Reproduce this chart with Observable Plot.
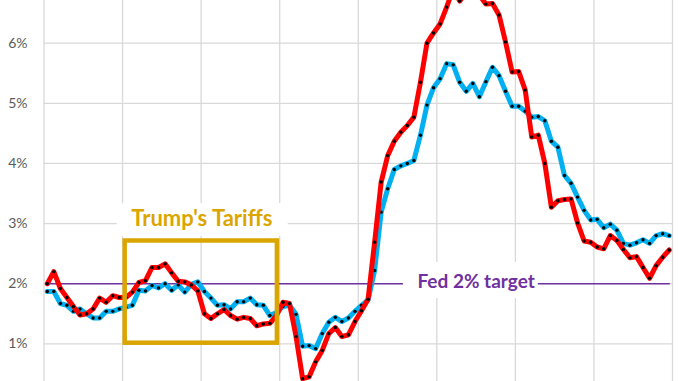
<!DOCTYPE html>
<html>
<head>
<meta charset="utf-8">
<script src="https://cdn.jsdelivr.net/npm/d3@7"></script>
<script src="https://cdn.jsdelivr.net/npm/@observablehq/plot@0.6"></script>
<style>
  html, body { margin: 0; padding: 0; background: #fff; }
  body { width: 678px; height: 381px; overflow: hidden; }
</style>
</head>
<body>
<div id="chart"></div>
<script>
// Monthly, Jan 2017 – Dec 2024 (year-over-year %)
const startYear = 2017;
const years = [2017, 2018, 2019, 2020, 2021, 2022, 2023, 2024];

// Red series (headline)
const headline = [
  2.00, 2.20, 1.92, 1.77, 1.62, 1.48, 1.50, 1.58, 1.76, 1.69, 1.80, 1.77,
  1.77, 1.86, 2.02, 2.05, 2.27, 2.27, 2.33, 2.18, 2.04, 2.03, 1.98, 1.88,
  1.50, 1.42, 1.50, 1.57, 1.47, 1.41, 1.44, 1.42, 1.30, 1.33, 1.34, 1.47,
  1.69, 1.67, 1.12, 0.42, 0.45, 0.70, 0.89, 1.17, 1.27, 1.12, 1.15, 1.37,
  1.55, 1.74, 2.69, 3.69, 4.13, 4.37, 4.52, 4.63, 4.77, 5.35, 6.00, 6.17,
  6.32, 6.60, 6.90, 6.70, 6.85, 7.10, 6.80, 6.65, 6.66, 6.47, 6.02, 5.52,
  5.53, 5.22, 4.44, 4.47, 4.00, 3.27, 3.38, 3.40, 3.41, 3.01, 2.71, 2.69,
  2.61, 2.58, 2.80, 2.72, 2.57, 2.43, 2.45, 2.27, 2.09, 2.30, 2.44, 2.56
];

// Blue series (core)
const core = [
  1.87, 1.87, 1.67, 1.64, 1.54, 1.58, 1.50, 1.43, 1.43, 1.54, 1.54, 1.58,
  1.61, 1.64, 1.89, 1.88, 1.97, 1.93, 2.00, 1.89, 1.98, 1.86, 1.99, 2.03,
  1.87, 1.76, 1.64, 1.65, 1.58, 1.70, 1.70, 1.76, 1.65, 1.64, 1.47, 1.52,
  1.62, 1.64, 1.49, 0.96, 0.97, 0.92, 1.17, 1.36, 1.44, 1.37, 1.43, 1.54,
  1.64, 1.73, 2.22, 3.19, 3.58, 3.90, 3.96, 4.00, 4.05, 4.47, 4.97, 5.26,
  5.41, 5.66, 5.64, 5.35, 5.20, 5.33, 5.11, 5.36, 5.60, 5.46, 5.20, 4.95,
  4.95, 4.87, 4.77, 4.78, 4.71, 4.37, 4.27, 3.80, 3.67, 3.44, 3.22, 3.06,
  3.07, 2.93, 2.99, 2.89, 2.67, 2.64, 2.68, 2.73, 2.67, 2.80, 2.83, 2.80
];

const yTicks = [1, 2, 3, 4, 5, 6];
const fedTarget = 2;
const fedLabel = "Fed 2% target";
const tariffLabel = "Trump's Tariffs";
// Tariff period box in data units (month index from Jan 2017, % range)
const tariffBox = {start: 12.4, end: 35.65, low: 1.01, high: 2.71};
const tariffLabelPos = {month: 24.1, value: 3.07};
const tariffLabelBg = {start: 11.2, end: 37.3, low: 2.785, high: 3.333};
const fedLabelPos = {month: 66.0, value: 2.03};
const fedLabelBg = {start: 54.9, end: 75.5, low: 1.753, high: 2.352};

const nMonths = headline.length;
const rows = headline.map((v, i) => ({i, headline: v, core: core[i]}));
const yearStarts = years.map((y, k) => k * 12).concat([nMonths]);

const grid = "#D9D9D9";
const gold = "#DBA500";
const purple = "#7030A0";

const chart = Plot.plot({
  width: 678,
  height: 381,
  marginLeft: 43.5,
  marginRight: 6,
  marginTop: 0,
  marginBottom: 0,
  style: {fontFamily: "Lato, 'Open Sans', sans-serif", background: "#fff"},
  x: {domain: [0, nMonths], axis: null},
  y: {domain: [0.373, 6.71], axis: null},
  marks: [
    Plot.ruleX(yearStarts, {stroke: grid, strokeWidth: 1.3}),
    Plot.ruleY(yTicks, {stroke: grid, strokeWidth: 1.3}),
    Plot.axisY(yTicks, {
      anchor: "left", tickSize: 0, tickPadding: 16.5,
      tickFormat: d => d + "%", fontSize: 14, fill: "#595959"
    }),
    Plot.line(rows, {x: d => d.i + 0.5, y: () => fedTarget, stroke: purple, strokeWidth: 1.5}),
    Plot.rect([tariffLabelBg], {x1: "start", x2: "end", y1: "low", y2: "high", fill: "#fff"}),
    Plot.rect([fedLabelBg], {x1: "start", x2: "end", y1: "low", y2: "high", fill: "#fff"}),
    Plot.text([fedLabel], {x: () => fedLabelPos.month, y: () => fedLabelPos.value, text: d => d,
      fill: purple, fontSize: 19, fontWeight: "bold"}),
    Plot.line(rows, {x: d => d.i + 0.5, y: "core", stroke: "#00B0F0", strokeWidth: 5,
      strokeLinejoin: "round", strokeLinecap: "round", clip: true}),
    Plot.dot(rows, {x: d => d.i + 0.5, y: "core", r: 1.7, fill: "#000", clip: true}),
    Plot.line(rows, {x: d => d.i + 0.5, y: "headline", stroke: "#FF0000", strokeWidth: 5,
      strokeLinejoin: "round", strokeLinecap: "round", clip: true}),
    Plot.dot(rows, {x: d => d.i + 0.5, y: "headline", r: 1.7, fill: "#000", clip: true}),
    Plot.rect([tariffBox], {x1: "start", x2: "end", y1: "low", y2: "high",
      fill: "none", stroke: gold, strokeWidth: 4.5}),
    Plot.text([tariffLabel], {x: () => tariffLabelPos.month, y: () => tariffLabelPos.value, text: d => d,
      fill: gold, fontSize: 22, fontWeight: "bold"})
  ]
});
document.getElementById("chart").appendChild(chart);
</script>
</body>
</html>
